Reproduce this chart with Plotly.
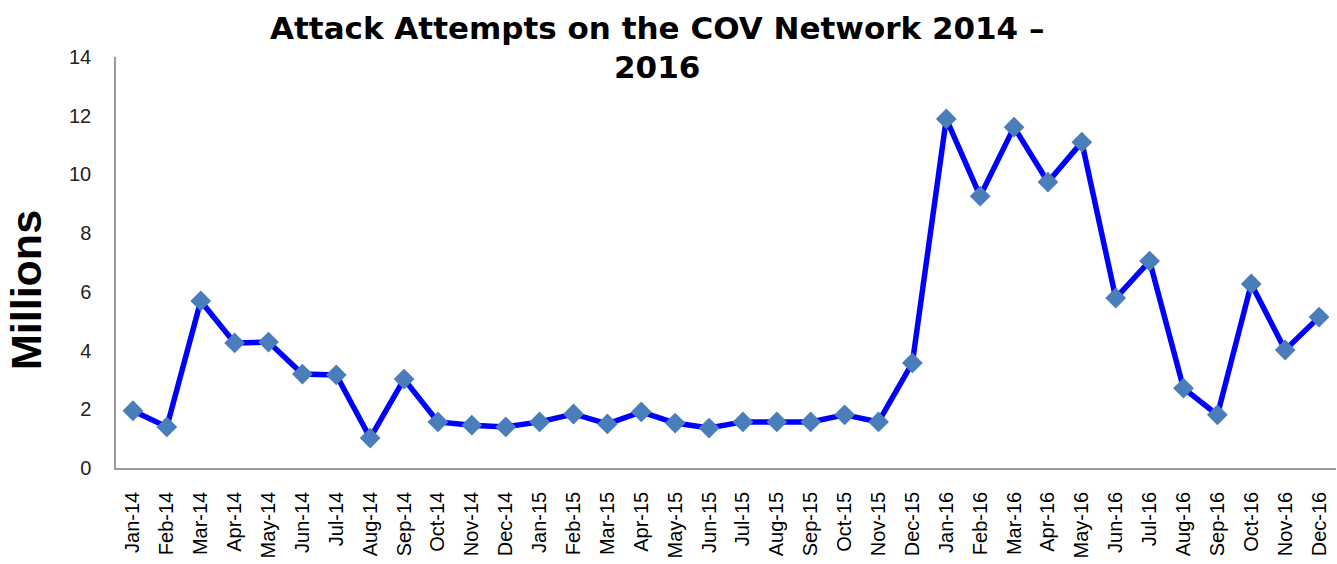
import plotly.graph_objects as go

months = ["Jan-14","Feb-14","Mar-14","Apr-14","May-14","Jun-14","Jul-14","Aug-14","Sep-14","Oct-14","Nov-14","Dec-14",
          "Jan-15","Feb-15","Mar-15","Apr-15","May-15","Jun-15","Jul-15","Aug-15","Sep-15","Oct-15","Nov-15","Dec-15",
          "Jan-16","Feb-16","Mar-16","Apr-16","May-16","Jun-16","Jul-16","Aug-16","Sep-16","Oct-16","Nov-16","Dec-16"]
attempts = [1.95, 1.40, 5.69, 4.26, 4.29, 3.20, 3.17, 1.02, 3.03, 1.57, 1.46, 1.40,
            1.57, 1.84, 1.50, 1.91, 1.53, 1.36, 1.57, 1.57, 1.57, 1.81, 1.57, 3.58,
            11.89, 9.26, 11.61, 9.74, 11.10, 5.79, 7.05, 2.72, 1.81, 6.27, 4.02, 5.14]
y_ticks = [0, 2, 4, 6, 8, 10, 12, 14]
title_lines = ["Attack Attempts on the COV Network 2014 –", "2016"]

fig = go.Figure()
fig.add_trace(go.Scatter(
    x=months, y=attempts, mode="lines+markers",
    line=dict(color="#0000FF", width=5.5),
    marker=dict(symbol="diamond", size=16, color="#4A7EBB"),
    showlegend=False,
))

fig.update_layout(
    width=1337, height=564,
    margin=dict(l=116, r=1, t=57, b=96),
    paper_bgcolor="white", plot_bgcolor="white",
    font=dict(family="Liberation Sans", color="#222222"),
)
fig.update_xaxes(
    type="category", range=[-0.5, 35.5],
    showline=True, linecolor="#9A9A9A", linewidth=1.5,
    showgrid=False, ticks="", tickangle=-90, ticklabelstandoff=14,
    tickfont=dict(family="Liberation Sans", size=20, color="black"),
)
fig.update_yaxes(
    range=[0, 14], tickvals=y_ticks,
    showline=True, linecolor="#9A9A9A", linewidth=1.5,
    showgrid=False, ticks="", zeroline=False, ticklabelstandoff=19,
    tickfont=dict(family="Liberation Sans", size=20, color="#222222"),
)
for txt, yy in zip(title_lines, [1.0706, 0.9757]):
    fig.add_annotation(
        text=f"<b>{txt}</b>", showarrow=False,
        xref="paper", yref="paper", x=(657 - 116) / 1220, y=yy,
        xanchor="center", yanchor="middle",
        font=dict(family="DejaVu Sans", size=31, color="black"),
    )
fig.add_annotation(
    text="<b>Millions</b>", textangle=-90, showarrow=False,
    xref="paper", yref="paper", x=-0.0738, y=0.433, xanchor="center", yanchor="middle",
    font=dict(family="Liberation Sans", size=43, color="black"),
)

fig.write_html("out.html")
